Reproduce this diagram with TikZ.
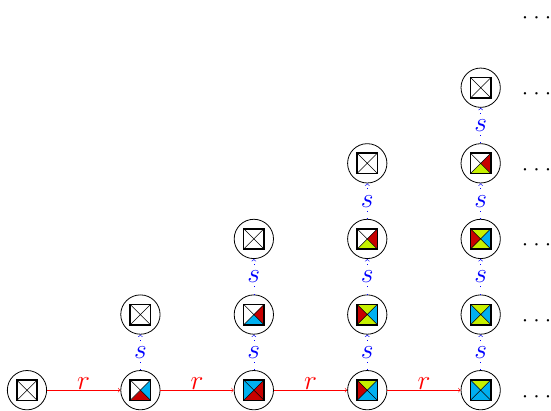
\documentclass[tikz,border=0pt]{standalone}
\usepackage{amsmath,amssymb}
\usepackage{tikz}
\usetikzlibrary{arrows}

\definecolor{tred}{RGB}{200,0,0}
\definecolor{tcyan}{RGB}{0,176,240}
\definecolor{tlime}{RGB}{198,240,0}

\tikzset{
  tile/.style={circle,draw,line width=.6pt,minimum size=1.04cm,inner sep=0pt},
  redge/.style={red,->,>=to},
  sedge/.style={blue,dash pattern=on .6pt off 5pt,->,>=to},
  lab/.style={font=\huge},
  slab/.style={font=\huge,fill=white,inner sep=1pt},
  dotlab/.style={font=\LARGE,inner sep=0pt}
}

% name, position, top, right, bottom, left
\newcommand{\tile}[6]{%
  \node[tile] (#1) at (#2) {};
  \begin{scope}[shift={(#2)}]
    \fill[#3] (-.27,.27) -- (0,0) -- (.27,.27) -- cycle;
    \fill[#4] (.27,.27) -- (0,0) -- (.27,-.27) -- cycle;
    \fill[#5] (.27,-.27) -- (0,0) -- (-.27,-.27) -- cycle;
    \fill[#6] (-.27,-.27) -- (0,0) -- (-.27,.27) -- cycle;
    \draw (-.27,-.27) -- (.27,.27) (-.27,.27) -- (.27,-.27);
    \draw[line width=1.2pt] (-.27,-.27) rectangle (.27,.27);
  \end{scope}}
\newcommand{\moredots}{${\cdot}\mkern4mu{\cdot}\mkern4mu{\cdot}$}

\begin{document}
\begin{tikzpicture}
\useasboundingbox (-.714,-.529) rectangle (13.86,10.32);
%
\tile{n00}{0,0}{white}{white}{white}{white}
%
\tile{n10}{3,0}{white}{tcyan}{tred}{white}
\tile{n11}{3,2}{white}{white}{white}{white}
%
\tile{n20}{6,0}{tcyan}{tred}{tred}{tcyan}
\tile{n21}{6,2}{white}{tred}{tcyan}{white}
\tile{n22}{6,4}{white}{white}{white}{white}
%
\tile{n30}{9,0}{tlime}{tcyan}{tcyan}{tred}
\tile{n31}{9,2}{tlime}{tcyan}{tlime}{tred}
\tile{n32}{9,4}{white}{tred}{tlime}{white}
\tile{n33}{9,6}{white}{white}{white}{white}
%
\tile{n40}{12,0}{tlime}{tcyan}{tcyan}{tcyan}
\tile{n41}{12,2}{tlime}{tcyan}{tlime}{tcyan}
\tile{n42}{12,4}{tlime}{tcyan}{tlime}{tred}
\tile{n43}{12,6}{white}{tred}{tlime}{white}
\tile{n44}{12,8}{white}{white}{white}{white}
%
\draw[redge] (n00) -- node[lab,above=-3pt] {$r$} (n10);
\draw[redge] (n10) -- node[lab,above=-3pt] {$r$} (n20);
\draw[redge] (n20) -- node[lab,above=-3pt] {$r$} (n30);
\draw[redge] (n30) -- node[lab,above=-3pt] {$r$} (n40);
%
\draw[sedge] (n10) -- node[slab] {$s$} (n11);
\draw[sedge] (n20) -- node[slab] {$s$} (n21);
\draw[sedge] (n21) -- node[slab] {$s$} (n22);
\draw[sedge] (n30) -- node[slab] {$s$} (n31);
\draw[sedge] (n31) -- node[slab] {$s$} (n32);
\draw[sedge] (n32) -- node[slab] {$s$} (n33);
\draw[sedge] (n40) -- node[slab] {$s$} (n41);
\draw[sedge] (n41) -- node[slab] {$s$} (n42);
\draw[sedge] (n42) -- node[slab] {$s$} (n43);
\draw[sedge] (n43) -- node[slab] {$s$} (n44);
%
\node[dotlab] (d0) at (13.48,-.18) {\moredots};
\node[dotlab] (d1) at (13.48,1.82) {\moredots};
\node[dotlab] (d2) at (13.48,3.82) {\moredots};
\node[dotlab] (d3) at (13.48,5.82) {\moredots};
\node[dotlab] (d4) at (13.48,7.82) {\moredots};
\node[dotlab] (d5) at (13.48,9.82) {\moredots};
\end{tikzpicture}
\end{document}
